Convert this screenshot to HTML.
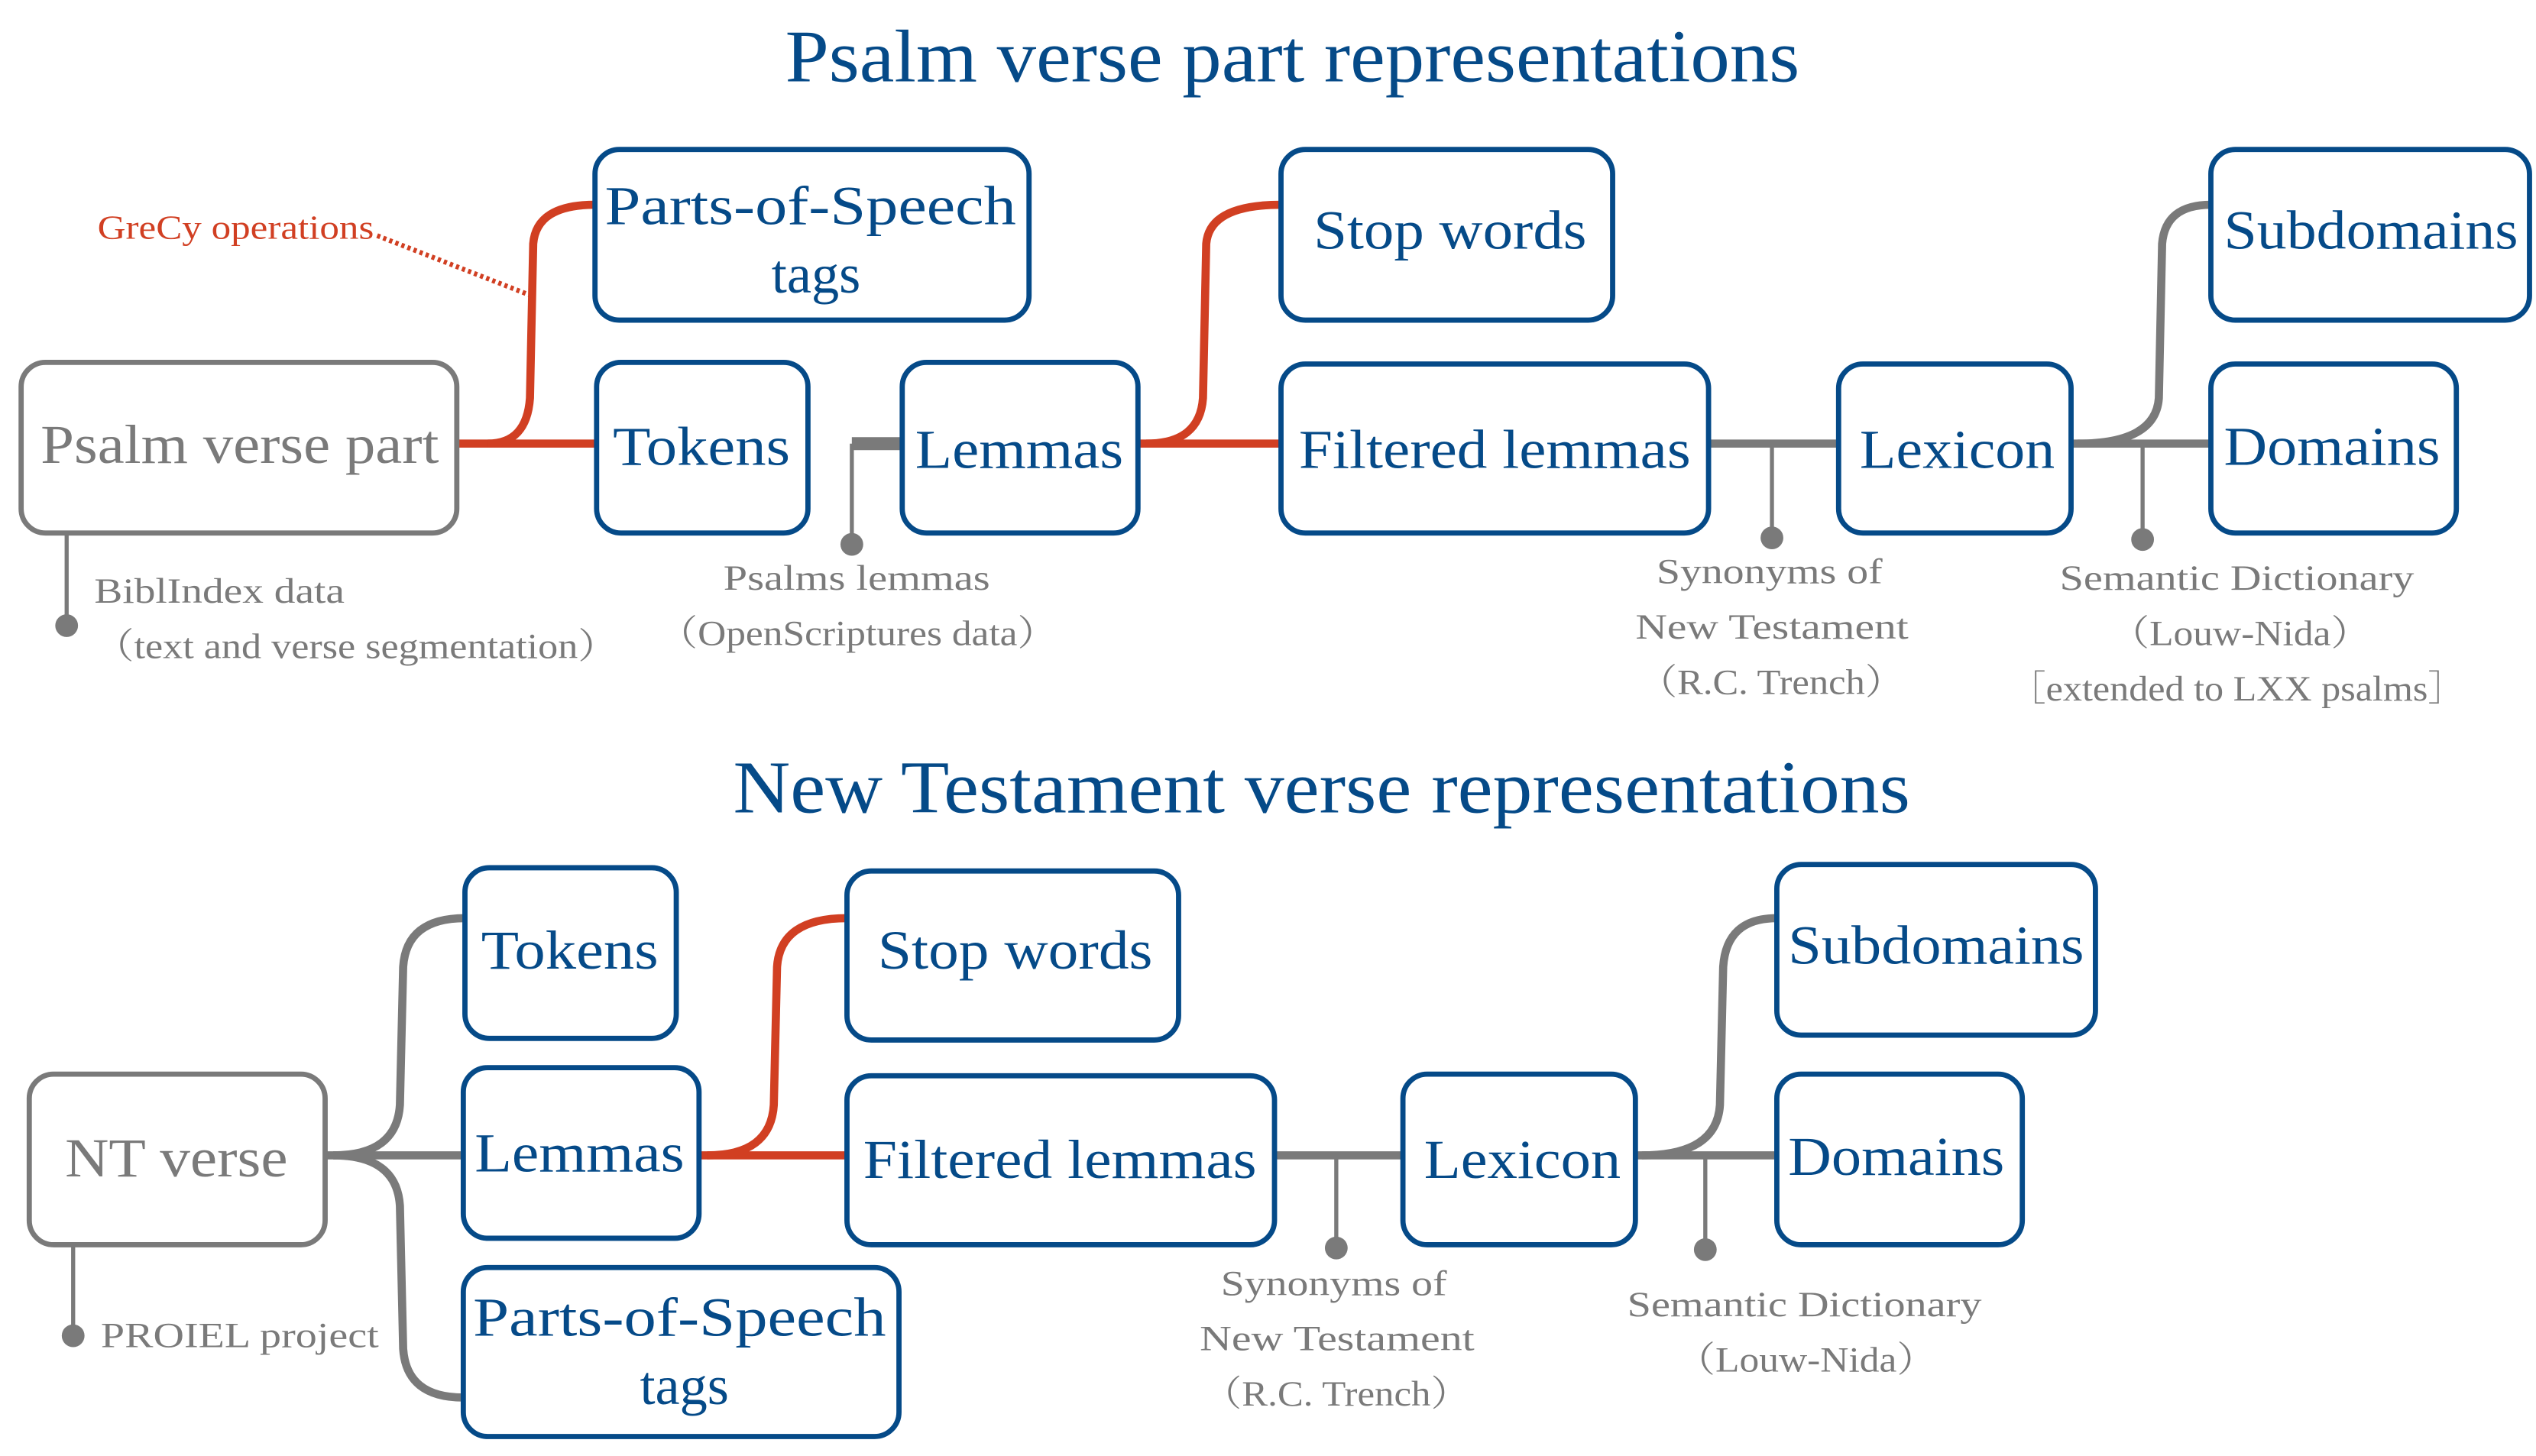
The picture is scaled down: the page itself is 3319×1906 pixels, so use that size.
<!DOCTYPE html>
<html><head><meta charset="utf-8"><style>
html,body{margin:0;padding:0;background:#fff;}
svg{display:block;}
text{font-family:"Liberation Serif","Noto Serif CJK SC",serif;}
.b{fill:#fff;stroke:#054a88;stroke-width:3.2;}
.g{fill:#fff;stroke:#7a7a7a;stroke-width:3.2;}
.bt{fill:#054a88;font-size:34px;}
.gt{fill:#7a7a7a;font-size:34px;}
.lab{fill:#7a7a7a;font-size:22px;}
.red{fill:none;stroke:#d13f22;stroke-width:5;}
.gl{fill:none;stroke:#7a7a7a;stroke-width:5;}
.gv{fill:none;stroke:#7a7a7a;stroke-width:2.5;}
</style></head><body>
<svg width="3319" height="1906" viewBox="0 0 1560 896" preserveAspectRatio="none" xmlns="http://www.w3.org/2000/svg">
<!-- TOP -->
<text x="483" y="50" textLength="624" lengthAdjust="spacingAndGlyphs" style="fill:#054a88;font-size:46px">Psalm verse part representations</text>

<!-- connectors top -->
<path class="red" d="M281 273 L367 273"/>
<path class="red" d="M300 273 Q324 273 326 245 L328 150 Q330 126 366 126"/>
<path class="gl" d="M524 273 L556 273" style="stroke-width:8"/>
<path class="gv" d="M524 273 L524 335"/><circle cx="524" cy="335" r="7" fill="#7a7a7a"/>
<path class="red" d="M700 273 L788 273"/>
<path class="red" d="M705 273 Q738 273 740 245 L742 150 Q744 126 788 126"/>
<path class="gl" d="M1051 273 L1131 273"/>
<path class="gv" d="M1090 273 L1090 331"/><circle cx="1090" cy="331" r="7" fill="#7a7a7a"/>
<path class="gl" d="M1274 273 L1360 273"/>
<path class="gl" d="M1278 273 Q1326 273 1328 245 L1330 150 Q1332 126 1360 126"/>
<path class="gv" d="M1318 273 L1318 332"/><circle cx="1318" cy="332" r="7" fill="#7a7a7a"/>
<path class="gv" d="M41 328 L41 385"/><circle cx="41" cy="385" r="7" fill="#7a7a7a"/>
<path d="M232 145 L327 182" stroke="#d13f22" stroke-width="3" stroke-dasharray="2,2" fill="none"/>
<text x="60" y="147" textLength="170" lengthAdjust="spacingAndGlyphs" style="fill:#d13f22;font-size:21px">GreCy operations</text>

<!-- boxes top -->
<rect class="g" x="13" y="223" width="268" height="105" rx="15"/>
<text class="gt" x="25" y="285" textLength="245" lengthAdjust="spacingAndGlyphs">Psalm verse part</text>
<rect class="b" x="366" y="92" width="267" height="105" rx="15"/>
<text class="bt" x="372" y="138" textLength="253" lengthAdjust="spacingAndGlyphs">Parts-of-Speech</text>
<text class="bt" x="502" y="180" text-anchor="middle">tags</text>
<rect class="b" x="367" y="223" width="130" height="105" rx="15"/>
<text class="bt" x="377" y="286" textLength="109" lengthAdjust="spacingAndGlyphs">Tokens</text>
<rect class="b" x="555" y="223" width="145" height="105" rx="15"/>
<text class="bt" x="563" y="288" textLength="128" lengthAdjust="spacingAndGlyphs">Lemmas</text>
<rect class="b" x="788" y="92" width="204" height="105" rx="15"/>
<text class="bt" x="808" y="153" textLength="168" lengthAdjust="spacingAndGlyphs">Stop words</text>
<rect class="b" x="788" y="224" width="263" height="104" rx="15"/>
<text class="bt" x="799" y="288" textLength="241" lengthAdjust="spacingAndGlyphs">Filtered lemmas</text>
<rect class="b" x="1131" y="224" width="143" height="104" rx="15"/>
<text class="bt" x="1144" y="288" textLength="120" lengthAdjust="spacingAndGlyphs">Lexicon</text>
<rect class="b" x="1360" y="92" width="196" height="105" rx="15"/>
<text class="bt" x="1368" y="153" textLength="181" lengthAdjust="spacingAndGlyphs">Subdomains</text>
<rect class="b" x="1360" y="224" width="151" height="104" rx="15"/>
<text class="bt" x="1368" y="286" textLength="133" lengthAdjust="spacingAndGlyphs">Domains</text>

<!-- labels top -->
<text class="lab" x="58" y="371" textLength="154" lengthAdjust="spacingAndGlyphs">BiblIndex data</text>
<text class="lab" x="58" y="405" textLength="322" lengthAdjust="spacingAndGlyphs">（text and verse segmentation）</text>
<text class="lab" x="445" y="363" textLength="164" lengthAdjust="spacingAndGlyphs">Psalms lemmas</text>
<text class="lab" x="405" y="397" textLength="245" lengthAdjust="spacingAndGlyphs">（OpenScriptures data）</text>
<text class="lab" x="1019" y="359" textLength="139" lengthAdjust="spacingAndGlyphs">Synonyms of</text>
<text class="lab" x="1006" y="393" textLength="168" lengthAdjust="spacingAndGlyphs">New Testament</text>
<text class="lab" x="1008" y="427" textLength="163" lengthAdjust="spacingAndGlyphs">（R.C. Trench）</text>
<text class="lab" x="1267" y="363" textLength="218" lengthAdjust="spacingAndGlyphs">Semantic Dictionary</text>
<text class="lab" x="1298" y="397" textLength="160" lengthAdjust="spacingAndGlyphs">（Louw-Nida）</text>
<text class="lab" x="1235" y="431" textLength="282" lengthAdjust="spacingAndGlyphs">［extended to LXX psalms］</text>

<!-- BOTTOM -->
<text x="451" y="500" textLength="724" lengthAdjust="spacingAndGlyphs" style="fill:#054a88;font-size:46px">New Testament verse representations</text>

<path class="gl" d="M200 711 L286 711"/>
<path class="gl" d="M205 711 Q244 711 246 680 L248 595 Q250 565 286 565"/>
<path class="gl" d="M205 711 Q244 711 246 742 L248 830 Q250 860 285 860"/>
<path class="gv" d="M45 766 L45 822"/><circle cx="45" cy="822" r="7" fill="#7a7a7a"/>
<path class="red" d="M430 711 L521 711"/>
<path class="red" d="M435 711 Q474 711 476 680 L478 595 Q480 565 521 565"/>
<path class="gl" d="M784 711 L863 711"/>
<path class="gv" d="M822 711 L822 768"/><circle cx="822" cy="768" r="7" fill="#7a7a7a"/>
<path class="gl" d="M1006 711 L1093 711"/>
<path class="gl" d="M1010 711 Q1056 711 1058 680 L1060 595 Q1062 565 1093 565"/>
<path class="gv" d="M1049 711 L1049 769"/><circle cx="1049" cy="769" r="7" fill="#7a7a7a"/>

<rect class="g" x="18" y="661" width="182" height="105" rx="15"/>
<text class="gt" x="40" y="724" textLength="137" lengthAdjust="spacingAndGlyphs">NT verse</text>
<rect class="b" x="286" y="534" width="130" height="105" rx="15"/>
<text class="bt" x="296" y="596" textLength="109" lengthAdjust="spacingAndGlyphs">Tokens</text>
<rect class="b" x="285" y="657" width="145" height="105" rx="15"/>
<text class="bt" x="292" y="721" textLength="129" lengthAdjust="spacingAndGlyphs">Lemmas</text>
<rect class="b" x="285" y="780" width="268" height="104" rx="15"/>
<text class="bt" x="291" y="822" textLength="254" lengthAdjust="spacingAndGlyphs">Parts-of-Speech</text>
<text class="bt" x="421" y="864" text-anchor="middle">tags</text>
<rect class="b" x="521" y="536" width="204" height="104" rx="15"/>
<text class="bt" x="540" y="596" textLength="169" lengthAdjust="spacingAndGlyphs">Stop words</text>
<rect class="b" x="521" y="662" width="263" height="104" rx="15"/>
<text class="bt" x="531" y="725" textLength="242" lengthAdjust="spacingAndGlyphs">Filtered lemmas</text>
<rect class="b" x="863" y="661" width="143" height="105" rx="15"/>
<text class="bt" x="876" y="725" textLength="121" lengthAdjust="spacingAndGlyphs">Lexicon</text>
<rect class="b" x="1093" y="532" width="196" height="105" rx="15"/>
<text class="bt" x="1100" y="593" textLength="182" lengthAdjust="spacingAndGlyphs">Subdomains</text>
<rect class="b" x="1093" y="661" width="151" height="105" rx="15"/>
<text class="bt" x="1100" y="723" textLength="133" lengthAdjust="spacingAndGlyphs">Domains</text>

<text class="lab" x="62" y="829" textLength="171" lengthAdjust="spacingAndGlyphs">PROIEL project</text>
<text class="lab" x="751" y="797" textLength="139" lengthAdjust="spacingAndGlyphs">Synonyms of</text>
<text class="lab" x="738" y="831" textLength="169" lengthAdjust="spacingAndGlyphs">New Testament</text>
<text class="lab" x="740" y="865" textLength="164" lengthAdjust="spacingAndGlyphs">（R.C. Trench）</text>
<text class="lab" x="1001" y="810" textLength="218" lengthAdjust="spacingAndGlyphs">Semantic Dictionary</text>
<text class="lab" x="1031" y="844" textLength="160" lengthAdjust="spacingAndGlyphs">（Louw-Nida）</text>
</svg>
</body></html>
